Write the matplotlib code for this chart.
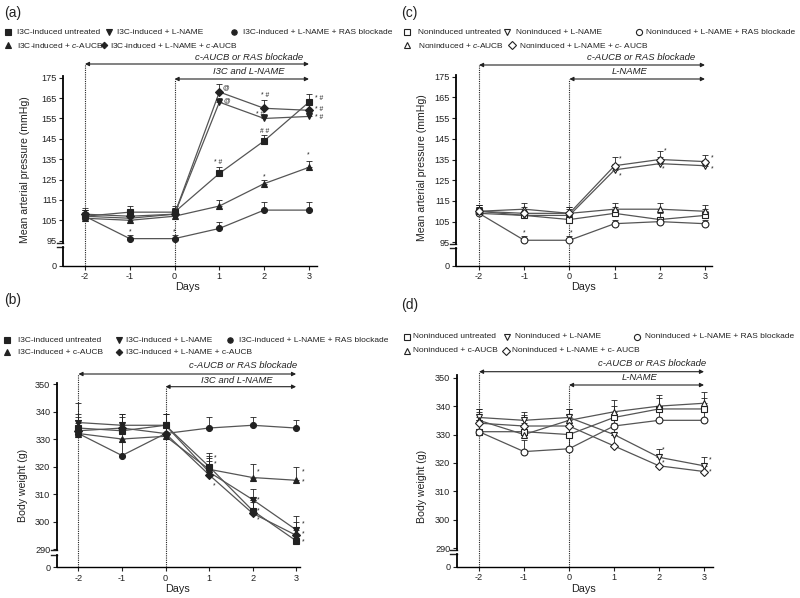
import matplotlib
matplotlib.use('Agg')
import matplotlib.pyplot as plt
from matplotlib.transforms import blended_transform_factory
from matplotlib.lines import Line2D

plt.rcParams['font.family'] = ['Liberation Sans', 'DejaVu Sans']
plt.rcParams['mathtext.fontset'] = 'custom'
plt.rcParams['mathtext.rm'] = 'Liberation Sans'
plt.rcParams['mathtext.it'] = 'Liberation Sans:italic'

W, H = 800, 598
fig = plt.figure(figsize=(W / 100, H / 100), dpi=100)

# ---------------- data ----------------
days = [-2, -1, 0, 1, 2, 3]
day_ticks = ['-2', '-1', '0', '1', '2', '3']
markers = ['s', 'v', 'o', '^', 'D']

# (a) mean arterial pressure, I3C-induced
labels_a = ['I3C-induced untreated', 'I3C-induced + L-NAME', 'I3C-induced + L-NAME + RAS blockade',
            'I3C-induced + $c$-AUCB', 'I3C-induced + L-NAME + $c$-AUCB']
a_untreated = [107, 109, 109, 128, 144, 163]
a_lname = [107, 106, 108, 163, 155, 156]
a_ras = [107, 96, 96, 101, 110, 110]
a_cauc = [106, 105, 107, 112, 123, 131]
a_lname_cauc = [108, 107, 108, 168, 160, 159]
a_err = [[3, 3, 3, 3, 3, 4], [3, 2, 3, 2, 2, 2], [3, 2, 2, 3, 4, 4], [3, 3, 3, 3, 2, 3], [3, 3, 3, 4, 4, 4]]

# (b) body weight, I3C-induced
labels_b = ['I3C-induced untreated', 'I3C-induced + L-NAME', 'I3C-induced + L-NAME + RAS blockade',
            'I3C-induced + c-AUCB', 'I3C-induced + L-NAME + c-AUCB']
b_untreated = [334, 333, 335, 320, 304, 293]
b_lname = [336, 335, 335, 318, 308, 297]
b_ras = [332, 324, 332, 334, 335, 334]
b_cauc = [332, 330, 331, 319, 316, 315]
b_lname_cauc = [333, 334, 332, 317, 303, 295]
b_err = [[5, 5, 4, 5, 4, 5], [7, 4, 4, 5, 4, 5], [5, 5, 4, 4, 3, 3], [5, 5, 4, 5, 5, 5], [5, 5, 4, 5, 4, 5]]

# (c) mean arterial pressure, noninduced
labels_c = ['Noninduced untreated', 'Noninduced + L-NAME', 'Noninduced + L-NAME + RAS blockade',
            'Noninduced + $c$-AUCB', 'Noninduced + L-NAME + $c$- AUCB']
c_untreated = [110, 108, 106, 109, 106, 108]
c_lname = [109, 108, 108, 130, 133, 132]
c_ras = [109, 96, 96, 104, 105, 104]
c_cauc = [110, 111, 109, 111, 111, 110]
c_lname_cauc = [110, 109, 109, 132, 135, 134]
c_err = [[3, 3, 3, 3, 3, 3], [3, 3, 3, 3, 3, 3], [3, 2, 2, 2, 2, 2], [3, 3, 3, 3, 3, 3], [3, 3, 3, 4, 4, 3]]

# (d) body weight, noninduced
labels_d = ['Noninduced untreated', 'Noninduced + L-NAME', 'Noninduced + L-NAME + RAS blockade',
            'Noninduced + c-AUCB', 'Noninduced + L-NAME + c- AUCB']
d_untreated = [331, 331, 330, 336, 339, 339]
d_lname = [336, 335, 336, 330, 322, 319]
d_ras = [331, 324, 325, 333, 335, 335]
d_cauc = [335, 330, 335, 338, 340, 341]
d_lname_cauc = [334, 333, 333, 326, 319, 317]
d_err = [[4, 4, 4, 4, 4, 4], [3, 3, 3, 4, 3, 3], [4, 4, 4, 4, 3, 3], [4, 4, 4, 4, 4, 4], [4, 4, 4, 4, 4, 3]]

pressure_ticks = [95, 105, 115, 125, 135, 145, 155, 165, 175]
weight_ticks = [290, 300, 310, 320, 330, 340, 350]

# significance marks: (day, value, text)
marks_a = [(-1, 99.5, '*'), (0, 99.5, '*'), (1.15, 170, '@'), (1.16, 163.5, '@'), (0.98, 133.5, '* #'),
           (2.02, 166.5, '* #'), (1.9, 157, '* #'), (2.0, 148.5, '# #'), (2.0, 126.5, '*'),
           (3.22, 165, '* #'), (3.22, 159.5, '* #'), (3.22, 155.5, '* #'), (2.98, 137, '*')]
marks_b = [(1.14, 323, '*'), (1.14, 321, '*'), (1.12, 313, '*'), (2.12, 318, '*'), (2.14, 308, '*'),
           (2.14, 304, '*'), (2.14, 300.5, '*'), (3.16, 318, '*'), (3.16, 314.5, '*'), (3.16, 299, '*'),
           (3.16, 295.5, '*'), (3.16, 292.5, '*')]
marks_c = [(-1, 99.5, '*'), (0.03, 99.5, '*'), (1.13, 135.5, '*'), (1.12, 127, '*'), (2.11, 139, '*'),
           (2.08, 130.5, '*'), (3.17, 136, '*'), (3.17, 130.5, '*')]
marks_d = [(2.1, 324.5, '*'), (2.1, 320, '*'), (3.13, 321, '*'), (3.13, 317, '*')]

LINE = '#555555'
DARK = '#222222'


def fxy(px, py):
    return px / W, 1 - py / H


def rect(left, top, right, bottom):
    return [left / W, 1 - bottom / H, (right - left) / W, (bottom - top) / H]


def msize(m, filled):
    base = 4.3 if filled else 4.9
    return base * (0.85 if m == 'D' else 1.0)


def panel(main_r, bot_r, xlim, ylim, bot_top, yticks, series, errs, filled, marks,
          ylabel, ylabel_px, days_px, arr1_py, arr2_py, txt1, txt1_px, txt2, txt2_px):
    ax = fig.add_axes(rect(*main_r))
    axb = fig.add_axes(rect(*bot_r))
    for a in (ax, axb):
        a.set_xlim(*xlim)
        a.patch.set_alpha(0)
        a.spines['top'].set_visible(False)
        a.spines['right'].set_visible(False)
        a.spines['left'].set_linewidth(1.3)
        a.tick_params(axis='both', length=3, width=0.8, labelsize=6.6, pad=1.5, colors=DARK)
    ax.spines['bottom'].set_visible(False)
    ax.set_xticks([])
    ax.set_ylim(*ylim)
    ax.set_yticks(yticks)
    axb.set_ylim(0, bot_top)
    axb.set_yticks([0])
    axb.set_xticks(days)
    axb.set_xticklabels(day_ticks)
    axb.spines['bottom'].set_linewidth(1.0)
    # break marks
    ax.plot([-0.025, 0], [0, 0], transform=ax.transAxes, color=DARK, lw=1.0, clip_on=False)
    axb.plot([-0.025, 0], [1, 1], transform=axb.transAxes, color=DARK, lw=1.0, clip_on=False)

    for ys, er, m in zip(series, errs, markers):
        lo = [0] * len(er)
        ax.errorbar(days, ys, yerr=[lo, er], fmt='none', ecolor=DARK, elinewidth=0.6,
                    capsize=2.2, capthick=0.6, zorder=2)
        ax.plot(days, ys, color=LINE, lw=0.9, zorder=3)
        ax.plot(days, ys, linestyle='none', marker=m, ms=msize(m, filled),
                mfc=(DARK if filled else 'white'), mec=DARK, mew=0.8, zorder=4)
    for x, y, t in marks:
        ax.text(x, y, t, fontsize=4.8, ha='center', va='center', color=DARK)

    # vertical dotted lines and arrows (figure y, data x)
    tr = blended_transform_factory(ax.transData, fig.transFigure)
    y0 = 1 - bot_r[3] / H
    y1 = 1 - arr1_py / H
    y2 = 1 - arr2_py / H
    ax.plot([days[0], days[0]], [y0, y1], transform=tr, color=DARK, lw=0.8, ls=(0, (1, 1)), clip_on=False)
    ax.plot([days[2], days[2]], [y0, y2], transform=tr, color=DARK, lw=0.8, ls=(0, (1, 1)), clip_on=False)
    ap = dict(arrowstyle='<|-|>', color=DARK, lw=0.8, mutation_scale=6, shrinkA=0, shrinkB=0)
    ax.annotate('', xy=(days[-1], y1), xytext=(days[0], y1), xycoords=tr, textcoords=tr,
                arrowprops=ap, annotation_clip=False)
    ax.annotate('', xy=(days[-1], y2), xytext=(days[2], y2), xycoords=tr, textcoords=tr,
                arrowprops=ap, annotation_clip=False)
    fig.text(*fxy(*txt1_px), txt1, fontsize=6.8, style='italic', ha='right', va='center', color=DARK)
    fig.text(*fxy(*txt2_px), txt2, fontsize=6.8, style='italic', ha='center', va='center', color=DARK)
    fig.text(*fxy(*ylabel_px), ylabel, rotation=90, fontsize=7.6, ha='center', va='center', color=DARK)
    fig.text(*fxy(*days_px), 'Days', fontsize=7.8, ha='center', va='center', color=DARK)
    return ax


def legend(items, filled):
    for m, lab, mx, tx, py in items:
        xf, yf = fxy(mx, py)
        fig.add_artist(Line2D([xf], [yf], marker=m, ms=msize(m, filled) * 0.9,
                              mfc=(DARK if filled else 'white'), mec=DARK, mew=0.8, ls='none'))
        fig.text(*fxy(tx, py), lab, fontsize=6.0, ha='left', va='center', color=DARK)


# ---------------- (a) ----------------
panel((63, 75.7, 317, 242.7), (63, 247, 317, 265.7), (-2.49, 3.18), (94, 176), 9.2, pressure_ticks,
      [a_untreated, a_lname, a_ras, a_cauc, a_lname_cauc], a_err, True, marks_a,
      'Mean arterial pressure (mmHg)', (25, 170), (188, 287), 64, 79,
      'c-AUCB or RAS blockade', (303, 58), 'I3C and L-NAME', (249, 72))
fig.text(*fxy(4, 13), '(a)', fontsize=10, ha='left', va='center', color=DARK)
legend([(markers[0], labels_a[0], 8, 17, 32), (markers[1], labels_a[1], 109, 117, 32),
        (markers[2], labels_a[2], 234, 243, 32), (markers[3], labels_a[3], 8, 17, 45),
        (markers[4], labels_a[4], 104, 110, 45)], True)

# ---------------- (c) ----------------
panel((456, 74.6, 711.7, 244.4), (456, 248, 711.7, 266), (-2.51, 3.15), (94, 176), 9.0, pressure_ticks,
      [c_untreated, c_lname, c_ras, c_cauc, c_lname_cauc], c_err, False, marks_c,
      'Mean arterial pressure (mmHg)', (421.7, 167.5), (583, 287), 65, 79,
      'c-AUCB or RAS blockade', (695, 57), 'L-NAME', (630, 72))
fig.text(*fxy(401, 13), '(c)', fontsize=10, ha='left', va='center', color=DARK)
legend([(markers[0], labels_c[0], 407, 418, 32), (markers[1], labels_c[1], 507, 516, 32),
        (markers[2], labels_c[2], 639, 646, 32), (markers[3], labels_c[3], 407, 418, 45),
        (markers[4], labels_c[4], 512, 519, 45)], False)

# ---------------- (b) ----------------
panel((56.7, 383.2, 300, 550.4), (56.7, 555, 300, 567.3), (-2.50, 3.09), (289.5, 350.3), 6.0, weight_ticks,
      [b_untreated, b_lname, b_ras, b_cauc, b_lname_cauc], b_err, True, marks_b,
      'Body weight (g)', (23.3, 485), (178, 589), 374, 386.7,
      'c-AUCB or RAS blockade', (297, 365.7), 'I3C and L-NAME', (237, 380.7))
fig.text(*fxy(4, 300), '(b)', fontsize=10, ha='left', va='center', color=DARK)
legend([(markers[0], labels_b[0], 7, 18, 340), (markers[1], labels_b[1], 119, 126, 340),
        (markers[2], labels_b[2], 230, 239, 340), (markers[3], labels_b[3], 7, 18, 352),
        (markers[4], labels_b[4], 119, 126, 352)], True)

# ---------------- (d) ----------------
panel((456.7, 375.4, 713, 549.7), (456.7, 554, 713, 566.7), (-2.496, 3.2), (289.5, 350.8), 6.0, weight_ticks,
      [d_untreated, d_lname, d_ras, d_cauc, d_lname_cauc], d_err, False, marks_d,
      'Body weight (g)', (421.7, 486), (583, 589), 371.7, 385,
      'c-AUCB or RAS blockade', (706, 364), 'L-NAME', (640, 378))
fig.text(*fxy(401, 305), '(d)', fontsize=10, ha='left', va='center', color=DARK)
legend([(markers[0], labels_d[0], 407, 413, 337), (markers[1], labels_d[1], 507, 515, 337),
        (markers[2], labels_d[2], 637, 645, 337), (markers[3], labels_d[3], 407, 413, 351),
        (markers[4], labels_d[4], 506, 512, 351)], False)

fig.savefig('out.png', dpi=100)
